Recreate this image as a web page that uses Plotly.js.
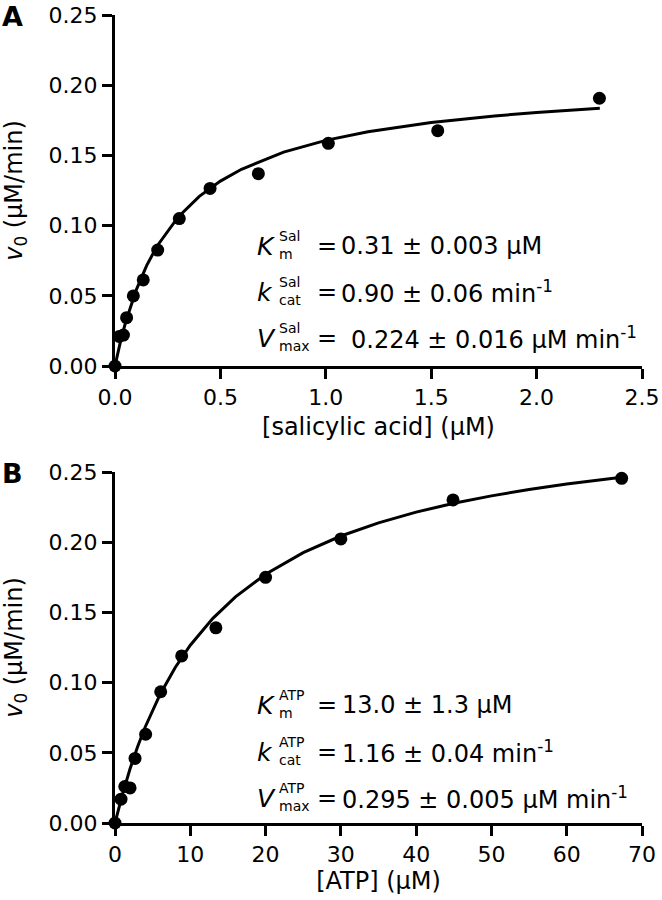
<!DOCTYPE html>
<html>
<head>
<meta charset="utf-8">
<script src="https://cdn.plot.ly/plotly-3.0.1.min.js"></script>
<style>html,body{margin:0;padding:0;background:#fff;}</style>
</head>
<body>
<div id="chart" style="width:662px;height:900px;"></div>
<script>
// Panel A: salicylic acid
const salConc = [0, 0.02, 0.04, 0.055, 0.087, 0.134, 0.2025, 0.305, 0.451, 0.68, 1.012, 1.531, 2.298];
const salRate = [0, 0.021, 0.022, 0.0344, 0.0499, 0.0613, 0.0826, 0.105, 0.1265, 0.137, 0.1586, 0.1676, 0.1907];
const salFitX = [0, 0.025, 0.05, 0.075, 0.1, 0.15, 0.2, 0.3, 0.4, 0.5, 0.6, 0.8, 1.0, 1.2, 1.5, 1.8, 2.0, 2.3];
const salFitY = [0, 0.0168, 0.0310, 0.0433, 0.0539, 0.0715, 0.0855, 0.1062, 0.1208, 0.1317, 0.1401, 0.1523, 0.1607, 0.1668, 0.1734, 0.1781, 0.1805, 0.1835];

// Panel B: ATP
const atpConc = [0, 0.8, 1.3, 2.0, 2.66, 4.07, 6.07, 8.86, 13.4, 20.0, 30.0, 44.9, 67.3];
const atpRate = [0, 0.017, 0.026, 0.025, 0.046, 0.0632, 0.0935, 0.119, 0.139, 0.175, 0.2023, 0.2301, 0.2455];
const atpFitX = [0, 0.5, 1, 2, 3, 4, 6, 8, 10, 13, 16, 20, 25, 30, 35, 40, 45, 50, 55, 60, 67.3];
const atpFitY = [0, 0.0107, 0.0206, 0.0386, 0.0543, 0.0682, 0.0917, 0.1108, 0.1266, 0.1458, 0.1611, 0.1772, 0.1926, 0.2044, 0.2138, 0.2214, 0.2277, 0.2330, 0.2376, 0.2415, 0.2463];

const xTicksA = [0, 0.5, 1.0, 1.5, 2.0, 2.5];
const xTickTextA = ['0.0', '0.5', '1.0', '1.5', '2.0', '2.5'];
const xTicksB = [0, 10, 20, 30, 40, 50, 60, 70];
const yTicks = [0, 0.05, 0.10, 0.15, 0.20, 0.25];
const yTickText = ['0.00', '0.05', '0.10', '0.15', '0.20', '0.25'];

const statsA = [
  {sym: 'K', sup: 'Sal', sub: 'm', val: '0.31 ± 0.003 μM'},
  {sym: 'k', sup: 'Sal', sub: 'cat', val: '0.90 ± 0.06 min<sup>-1</sup>'},
  {sym: 'V', sup: 'Sal', sub: 'max', val: '0.224 ± 0.016 μM min<sup>-1</sup>'}
];
const statsB = [
  {sym: 'K', sup: 'ATP', sub: 'm', val: '13.0 ± 1.3 μM'},
  {sym: 'k', sup: 'ATP', sub: 'cat', val: '1.16 ± 0.04 min<sup>-1</sup>'},
  {sym: 'V', sup: 'ATP', sub: 'max', val: '0.295 ± 0.005 μM min<sup>-1</sup>'}
];

const FONT = 'DejaVu Sans, Arial, sans-serif';
const W = 662, H = 900, ML = 115, MR = 20, MT = 15, MB = 77;
const PW = W - ML - MR, PH = H - MT - MB;
const px = x => (x - ML) / PW;
const py = y => (H - MB - y) / PH;

const marker = {color: '#000', size: 13};
const line = {color: '#000', width: 3};

const traces = [
  {x: salFitX, y: salFitY, xaxis: 'x2', yaxis: 'y2', mode: 'lines', line: line, cliponaxis: false, hoverinfo: 'skip'},
  {x: salConc, y: salRate, xaxis: 'x2', yaxis: 'y2', mode: 'markers', marker: marker, cliponaxis: false},
  {x: atpFitX, y: atpFitY, xaxis: 'x', yaxis: 'y', mode: 'lines', line: line, cliponaxis: false, hoverinfo: 'skip'},
  {x: atpConc, y: atpRate, xaxis: 'x', yaxis: 'y', mode: 'markers', marker: marker, cliponaxis: false}
];

const axisBase = {
  showline: true, linecolor: '#000', linewidth: 3,
  ticks: 'outside', ticklen: 10, tickwidth: 3, tickcolor: '#000',
  showgrid: false, zeroline: false,
  tickfont: {family: FONT, size: 22, color: '#000'},
  fixedrange: true, automargin: true
};

const ytitleText = '<i>v</i><sub>0</sub> (μM/min)';
const titleFont = {family: FONT, size: 24, color: '#000'};

const annotations = [];
function addStats(stats, rowYs, valX) {
  stats.forEach((s, i) => {
    const yc = rowYs[i];
    annotations.push({xref: 'paper', yref: 'paper', x: px(255), y: py(yc), xanchor: 'left', yanchor: 'middle',
      text: '<i>' + s.sym + '</i>', showarrow: false, font: {family: FONT, size: 25, color: '#000'}});
    annotations.push({xref: 'paper', yref: 'paper', x: px(277), y: py(yc - 10), xanchor: 'left', yanchor: 'middle',
      text: s.sup, showarrow: false, font: {family: FONT, size: 14, color: '#000'}});
    annotations.push({xref: 'paper', yref: 'paper', x: px(277), y: py(yc + 8), xanchor: 'left', yanchor: 'middle',
      text: s.sub, showarrow: false, font: {family: FONT, size: 14, color: '#000'}});
    annotations.push({xref: 'paper', yref: 'paper', x: px(315), y: py(yc), xanchor: 'left', yanchor: 'middle',
      text: '=', showarrow: false, font: {family: FONT, size: 24, color: '#000'}});
    annotations.push({xref: 'paper', yref: 'paper', x: px(valX[i]), y: py(yc), xanchor: 'left', yanchor: 'middle',
      text: s.val, showarrow: false, font: {family: FONT, size: 24, color: '#000'}});
  });
}
addStats(statsA, [246, 292, 338], [339, 339, 349]);
addStats(statsB, [705, 752, 798], [340, 340, 340]);

annotations.push({xref: 'paper', yref: 'paper', x: px(0), y: py(16), xanchor: 'left', yanchor: 'middle',
  text: '<b>A</b>', showarrow: false, font: {family: FONT, size: 27, color: '#000'}});
annotations.push({xref: 'paper', yref: 'paper', x: px(0), y: py(473), xanchor: 'left', yanchor: 'middle',
  text: '<b>B</b>', showarrow: false, font: {family: FONT, size: 27, color: '#000'}});

const layout = {
  width: W, height: H,
  margin: {l: ML, r: MR, t: MT, b: MB, pad: 0, autoexpand: false},
  paper_bgcolor: '#fff', plot_bgcolor: '#fff',
  showlegend: false,
  xaxis: Object.assign({}, axisBase, {anchor: 'y', domain: [0, 1], range: [0, 70], tickvals: xTicksB,
    title: {text: '[ATP] (μM)', font: titleFont, standoff: 2}}),
  yaxis: Object.assign({}, axisBase, {anchor: 'x', domain: [0, 351 / PH], range: [0, 0.25], tickvals: yTicks, ticktext: yTickText,
    title: {text: ytitleText, font: titleFont, standoff: 20}}),
  xaxis2: Object.assign({}, axisBase, {anchor: 'y2', domain: [0, 1], range: [0, 2.5], tickvals: xTicksA, ticktext: xTickTextA,
    title: {text: '[salicylic acid] (μM)', font: titleFont, standoff: 9}}),
  yaxis2: Object.assign({}, axisBase, {anchor: 'x2', domain: [1 - 351 / PH, 1], range: [0, 0.25], tickvals: yTicks, ticktext: yTickText,
    title: {text: ytitleText, font: titleFont, standoff: 20}}),
  annotations: annotations
};

Plotly.newPlot('chart', traces, layout, {staticPlot: true, displayModeBar: false});
</script>
</body>
</html>
